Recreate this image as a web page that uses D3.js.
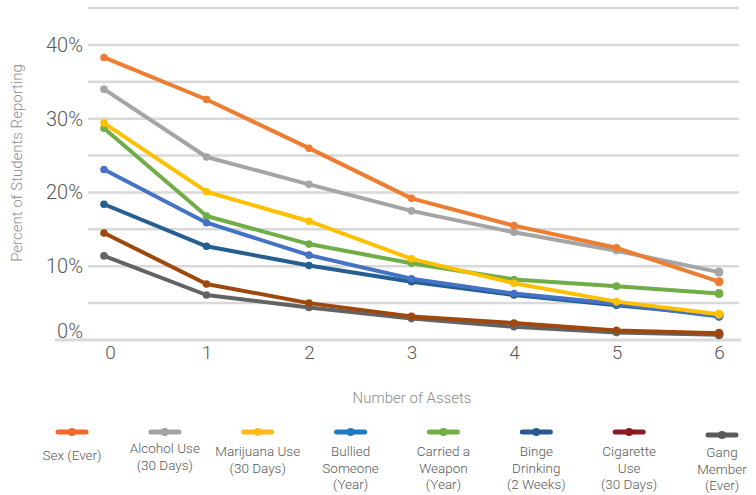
<!DOCTYPE html>
<html>
<head>
<meta charset="utf-8">
<script src="https://cdn.jsdelivr.net/npm/d3@7"></script>
<style>
  body { margin: 0; background: #fff; }
  text { font-family: Roboto, "Noto Sans", sans-serif; font-weight: 300; }
</style>
</head>
<body>
<div class="chart-container"></div>
<script>
// values, percent of students
let assets = [0, 1, 2, 3, 4, 5, 6]
let sexEver = [38.3, 32.6, 26.0, 19.2, 15.5, 12.5, 7.9]
let alcoholUse = [34.0, 24.8, 21.1, 17.5, 14.6, 12.1, 9.2]
let marijuanaUse = [29.4, 20.1, 16.1, 11.0, 7.7, 5.2, 3.5]
let bulliedSomeone = [23.1, 15.9, 11.5, 8.3, 6.3, 4.9, 3.2]
let carriedWeapon = [28.7, 16.8, 13.0, 10.4, 8.2, 7.3, 6.3]
let bingeDrinking = [18.4, 12.7, 10.1, 7.9, 6.1, 4.7, 3.4]
let cigaretteUse = [14.5, 7.6, 5.0, 3.2, 2.3, 1.3, 0.9]
let gangMember = [11.4, 6.1, 4.4, 2.9, 1.8, 1.0, 0.7]

let seriesNames = [["Sex (Ever)"], ["Alcohol Use", "(30 Days)"], ["Marijuana Use", "(30 Days)"],
    ["Bullied", "Someone", "(Year)"], ["Carried a", "Weapon", "(Year)"], ["Binge", "Drinking", "(2 Weeks)"],
    ["Cigarette", "Use", "(30 Days)"], ["Gang", "Member", "(Ever)"]]
let yTicks = [0, 10, 20, 30, 40]
let gridValues = [5, 10, 15, 20, 25, 30, 35, 40, 45]

let series = [sexEver, alcoholUse, marijuanaUse, bulliedSomeone, carriedWeapon, bingeDrinking, cigaretteUse, gangMember]
let lineColors = ["#ED7D31", "#A5A5A5", "#FFC000", "#4472C4", "#70AD47", "#255E91", "#9E480E", "#636363"]
let legendColors = ["#F0692A", "#A3A3A3", "#FFBA1A", "#1E78C2", "#72B043", "#27588F", "#8C1A22", "#5A5A5A"]

let dims = { width: 756, height: 495 }

var svg = d3.select(".chart-container")
    .append("svg")
    .attr("width", dims.width)
    .attr("height", dims.height)

var xScale = d3.scaleLinear().domain([0, 6]).range([104, 719])
var yScale = d3.scaleLinear().domain([0, 45]).range([340, 8])

// gridlines
svg.append("g")
    .selectAll("line")
    .data(gridValues)
    .enter()
    .append("line")
    .attr("x1", 88)
    .attr("x2", 739)
    .attr("y1", d => yScale(d))
    .attr("y2", d => yScale(d))
    .attr("stroke", "#d9d9d9")
    .attr("stroke-width", 2.5)

svg.append("line")
    .attr("x1", 55)
    .attr("x2", 741)
    .attr("y1", yScale(0))
    .attr("y2", yScale(0))
    .attr("stroke", "#d9d9d9")
    .attr("stroke-width", 3)

// y axis
var yAxis = d3.axisLeft(yScale)
    .tickValues(yTicks)
    .tickFormat(d => d + "%")
    .tickSize(0)
    .tickPadding(0)

var yAxisGroup = svg.append("g")
    .attr("transform", "translate(83,0)")
    .call(yAxis)
yAxisGroup.select(".domain").remove()
yAxisGroup.selectAll("text")
    .attr("font-size", "20px")
    .attr("fill", "#595959")
    .attr("font-family", "Roboto")
    .attr("dy", d => d == 0 ? "-0.12em" : "0.32em")

// x axis
var xAxis = d3.axisBottom(xScale)
    .tickValues(assets)
    .tickFormat(d3.format("d"))
    .tickSize(0)
    .tickPadding(0)

var xAxisGroup = svg.append("g")
    .attr("transform", "translate(0,345)")
    .call(xAxis)
xAxisGroup.select(".domain").remove()
xAxisGroup.selectAll("text")
    .attr("font-size", "19px")
    .attr("fill", "#595959")
    .attr("font-family", "Roboto")
    .attr("x", d => d == 0 ? 6 : 0)

// axis titles
svg.append("text")
    .attr("transform", "translate(22,163) rotate(-90)")
    .attr("text-anchor", "middle")
    .attr("font-size", "15px")
    .attr("fill", "#8c8c8c")
    .text("Percent of Students Reporting")

svg.append("text")
    .attr("x", 412)
    .attr("y", 403)
    .attr("text-anchor", "middle")
    .attr("font-size", "15px")
    .attr("fill", "#8c8c8c")
    .text("Number of Assets")

// lines and points
var line = d3.line()
    .x((d, i) => xScale(assets[i]))
    .y(d => yScale(d))

var plot = svg.append("g")

for (let s = series.length - 1; s >= 0; s--) {
    var g = plot.append("g")
    g.append("path")
        .datum(series[s])
        .attr("d", line)
        .attr("fill", "none")
        .attr("stroke", lineColors[s])
        .attr("stroke-width", 4)
        .attr("stroke-linejoin", "round")
    g.selectAll("circle")
        .data(series[s])
        .enter()
        .append("circle")
        .attr("cx", (d, i) => xScale(assets[i]))
        .attr("cy", d => yScale(d))
        .attr("r", (d, i) => i == 6 ? 4.5 : 3.8)
        .attr("fill", lineColors[s])
}

// legend
var legendX = d3.scalePoint()
    .domain(d3.range(series.length))
    .range([72, 722])

var legend = svg.append("g")
    .selectAll("g")
    .data(seriesNames)
    .enter()
    .append("g")
    .attr("transform", (d, i) => `translate(${legendX(i)},0)`)

legend.append("line")
    .attr("x1", -14)
    .attr("x2", 14)
    .attr("y1", (d, i) => i == 7 ? 435 : 432)
    .attr("y2", (d, i) => i == 7 ? 435 : 432)
    .attr("stroke", (d, i) => legendColors[i])
    .attr("stroke-width", 5)
    .attr("stroke-linecap", "round")

legend.append("circle")
    .attr("cy", (d, i) => i == 7 ? 435 : 432)
    .attr("r", 4)
    .attr("fill", (d, i) => legendColors[i])

legend.append("text")
    .attr("text-anchor", "middle")
    .attr("font-size", "13.5px")
    .attr("fill", "#595959")
    .each(function (d, i) {
        var startY = d.length == 1 ? 460 : (i == 1 ? 453 : 456)
        if (i == 7) startY = 457
        d3.select(this).selectAll("tspan")
            .data(d)
            .enter()
            .append("tspan")
            .attr("x", 0)
            .attr("y", (t, j) => startY + j * 16.5)
            .text(t => t)
    })
</script>
</body>
</html>
